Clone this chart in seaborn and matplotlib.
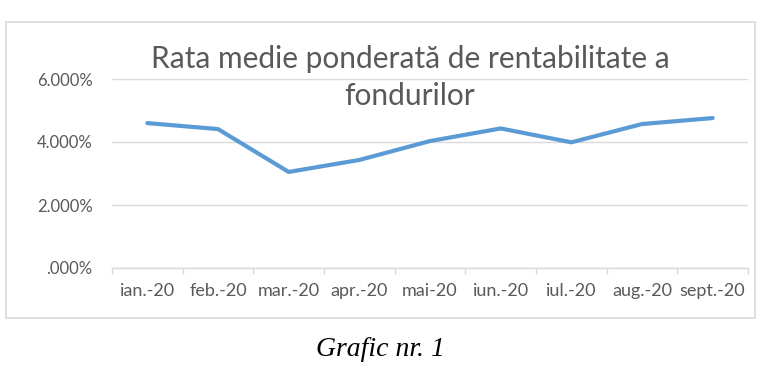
import matplotlib
matplotlib.use("Agg")
import matplotlib.pyplot as plt
import seaborn as sns
import pandas as pd
from matplotlib.patches import Rectangle
from matplotlib.ticker import FuncFormatter

months = ["ian.-20", "feb.-20", "mar.-20", "apr.-20", "mai-20", "iun.-20", "iul.-20", "aug.-20", "sept.-20"]
rates = [0.0460, 0.0441, 0.0305, 0.0343, 0.0403, 0.0443, 0.0399, 0.0457, 0.0476]
yticks = [0.0, 0.02, 0.04, 0.06]

sns.set_theme(style="white")
plt.rcParams['font.family'] = ['Lato', 'DejaVu Sans']

df = pd.DataFrame({"luna": months, "rata": rates})

fig = plt.figure(figsize=(7.61, 3.71), dpi=100)
fig.patch.set_facecolor("white")
fig.patches.append(Rectangle((6/761, 1-318/371), (755-6)/761, (318-22)/371,
                             transform=fig.transFigure, fill=False,
                             edgecolor="#d9d9d9", linewidth=1.2, zorder=0))

ax = fig.add_axes([112/761, 1-268/371, (748-112)/761, (268-79)/371])
sns.lineplot(data=df, x="luna", y="rata", ax=ax, color="#5b9bd5", linewidth=3.0,
             sort=False)
ax.set_xlim(-0.5, len(months) - 0.5)
ax.set_ylim(0, 0.06)
ax.set_yticks(yticks)
ax.yaxis.set_major_formatter(FuncFormatter(lambda v, p: ("%.3f%%" % (v*100)).lstrip("0") if v == 0 else "%.3f%%" % (v*100)))
ax.grid(axis="y", color="#d9d9d9", linewidth=1.0)
ax.set_axisbelow(True)
for s in ["top", "right", "left"]:
    ax.spines[s].set_visible(False)
ax.spines["bottom"].set_color("#d9d9d9")
ax.spines["bottom"].set_linewidth(1.0)
ax.set_xlabel("")
ax.set_ylabel("")
ax.set_xticks(range(len(months)))
ax.set_xticklabels(months)
ax.set_xticks([i - 0.5 for i in range(len(months) + 1)], minor=True)
ax.tick_params(axis="x", which="major", length=0, pad=11, labelsize=13, labelcolor="#595959")
ax.tick_params(axis="x", which="minor", length=4, width=1, color="#d9d9d9", bottom=True)
ax.tick_params(axis="y", length=0, pad=14, labelsize=12, labelcolor="#595959")

fig.text(410/761, 1-77.5/371, "Rata medie ponderată de rentabilitate a\nfondurilor",
         ha="center", va="center", fontsize=21.5, color="#595959", linespacing=1.38)
fig.text(380/761, 1-349/371, "Grafic nr. 1", ha="center", va="center",
         fontsize=20, style="italic", family=["Liberation Serif"], color="black")

fig.savefig("out.png", dpi=100)
